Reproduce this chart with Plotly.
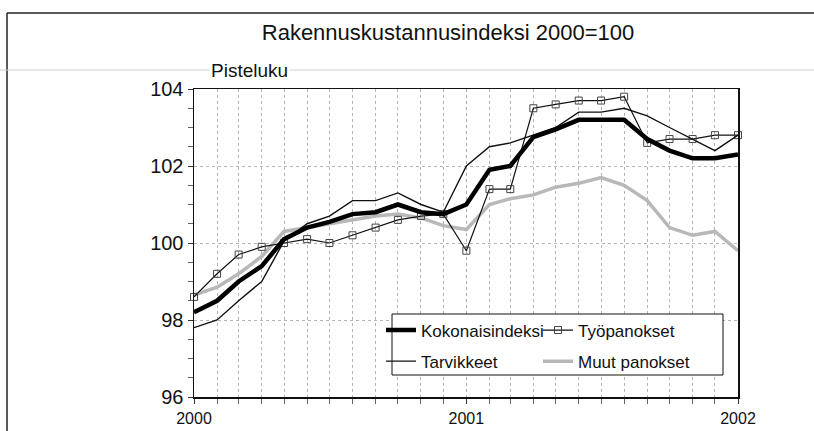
import plotly.graph_objects as go

months = ["2000-01", "2000-02", "2000-03", "2000-04", "2000-05", "2000-06",
          "2000-07", "2000-08", "2000-09", "2000-10", "2000-11", "2000-12",
          "2001-01", "2001-02", "2001-03", "2001-04", "2001-05", "2001-06",
          "2001-07", "2001-08", "2001-09", "2001-10", "2001-11", "2001-12",
          "2002-01"]

kokonaisindeksi = [98.2, 98.5, 99.0, 99.4, 100.1, 100.4, 100.55, 100.75, 100.8, 101.0,
                   100.8, 100.75, 101.0, 101.9, 102.0, 102.75, 102.95, 103.2, 103.2, 103.2,
                   102.7, 102.4, 102.2, 102.2, 102.3]
tarvikkeet = [97.8, 98.0, 98.5, 99.0, 100.05, 100.5, 100.7, 101.1, 101.1, 101.3,
              101.0, 100.8, 102.0, 102.5, 102.6, 102.8, 103.0, 103.4, 103.4, 103.5,
              103.3, 103.0, 102.7, 102.4, 102.8]
tyopanokset = [98.6, 99.2, 99.7, 99.9, 100.0, 100.1, 100.0, 100.2, 100.4, 100.6,
               100.7, 100.75, 99.8, 101.4, 101.4, 103.5, 103.6, 103.7, 103.7, 103.8,
               102.6, 102.7, 102.7, 102.8, 102.8]
muut_panokset = [98.65, 98.85, 99.2, 99.65, 100.3, 100.4, 100.5, 100.6, 100.7, 100.75,
                 100.65, 100.45, 100.35, 101.0, 101.15, 101.25, 101.45, 101.55, 101.7, 101.5,
                 101.1, 100.4, 100.2, 100.3, 99.8]

year_ticks = ["2000-01-01", "2001-01-01", "2002-01-01"]
year_labels = ["2000", "2001", "2002"]
y_ticks = [96, 98, 100, 102, 104]

FONT = "Liberation Sans, Arial, sans-serif"

W, H = 814, 431
L, R, T, B = 194, 738, 89, 397


def px_x(p):
    return (p - L) / (R - L)


def px_y(p):
    return (B - p) / (B - T)


fig = go.Figure()
fig.add_trace(go.Scatter(x=months, y=muut_panokset, name="Muut panokset", mode="lines",
                         line=dict(color="#b8b8b8", width=3.5), legend="legend2",
                         legendgroup="d", legendrank=2, cliponaxis=False))
fig.add_trace(go.Scatter(x=months, y=tyopanokset, name="Työpanokset", mode="lines+markers",
                         line=dict(color="#111111", width=1.2),
                         marker=dict(symbol="square-open", size=7, color="#444444",
                                     line=dict(width=1)),
                         legend="legend2", legendgroup="b", legendrank=1, cliponaxis=False))
fig.add_trace(go.Scatter(x=months, y=tarvikkeet, name="Tarvikkeet", mode="lines",
                         line=dict(color="#111111", width=1.4), legend="legend",
                         legendgroup="c", legendrank=2, cliponaxis=False))
fig.add_trace(go.Scatter(x=months, y=kokonaisindeksi, name="Kokonaisindeksi", mode="lines",
                         line=dict(color="#000000", width=4.5), legend="legend",
                         legendgroup="a", legendrank=1, cliponaxis=False))

legend_common = dict(orientation="v", xanchor="left", yanchor="top",
                     borderwidth=0, bgcolor="rgba(0,0,0,0)",
                     font=dict(size=17, color="#111111"), itemwidth=30,
                     tracegroupgap=6, traceorder="grouped")

fig.update_layout(
    width=W, height=H,
    margin=dict(l=L, r=W - R, t=T, b=H - B, pad=0, autoexpand=False),
    paper_bgcolor="white", plot_bgcolor="white",
    font=dict(family=FONT, color="#111111"),
    title=dict(text="Rakennuskustannusindeksi 2000=100", font=dict(size=22, color="#111111"),
               xref="container", x=448 / W, xanchor="center",
               yref="container", y=1 - 32 / H, yanchor="middle"),
    showlegend=True,
    legend=dict(x=px_x(381), y=px_y(312.5), **legend_common),
    legend2=dict(x=px_x(538), y=px_y(312.5), **legend_common),
    xaxis=dict(type="date", range=["2000-01-01", "2002-01-01"],
               tickvals=year_ticks, ticktext=year_labels, automargin=False,
               tickfont=dict(size=16), ticks="outside", ticklen=5, tickcolor="#333333",
               ticklabelstandoff=1,
               showgrid=True, gridcolor="#ababab", griddash="dot", gridwidth=1,
               minor=dict(dtick="M1", tick0="2000-01-01", ticks="outside", ticklen=5,
                          tickcolor="#666666", showgrid=True, gridcolor="#b4b4b4",
                          griddash="dot", gridwidth=1),
               showline=True, linecolor="#111111", linewidth=1.5, mirror=True,
               zeroline=False, fixedrange=True),
    yaxis=dict(range=[96, 104], tickvals=y_ticks, automargin=False,
               tickfont=dict(size=20), ticks="outside", ticklen=5, tickcolor="#333333",
               showgrid=True, gridcolor="#b4b4b4", griddash="dot", gridwidth=1,
               minor=dict(dtick=0.5, tick0=96, ticks="outside", ticklen=5,
                          tickcolor="#666666", showgrid=False),
               showline=True, linecolor="#111111", linewidth=1.5, mirror=True,
               zeroline=False, fixedrange=True, ticklabelstandoff=0),
    shapes=[
        dict(type="line", xref="paper", yref="paper",
             x0=px_x(7), x1=px_x(814), y0=px_y(13), y1=px_y(13),
             line=dict(color="#222222", width=1.5), layer="below"),
        dict(type="line", xref="paper", yref="paper",
             x0=px_x(7), x1=px_x(7), y0=px_y(13), y1=px_y(431),
             line=dict(color="#222222", width=1.5), layer="below"),
        dict(type="line", xref="paper", yref="paper",
             x0=px_x(0), x1=px_x(814), y0=px_y(70), y1=px_y(70),
             line=dict(color="#d0d0d0", width=1), layer="below"),
        dict(type="rect", xref="paper", yref="paper",
             x0=px_x(392), x1=px_x(723), y0=px_y(375), y1=px_y(314),
             line=dict(color="#111111", width=1), fillcolor="white", layer="above"),
    ],
    annotations=[
        dict(text="Pisteluku", xref="paper", yref="paper", x=px_x(209), y=px_y(71),
             xanchor="left", yanchor="middle", showarrow=False,
             font=dict(size=19, color="#111111"), bgcolor="white"),
    ],
)

fig.write_html("out.html",
               config={"displayModeBar": False, "staticPlot": True},
               post_script="document.body.style.margin='0';"
                           "document.body.style.overflow='hidden';")
